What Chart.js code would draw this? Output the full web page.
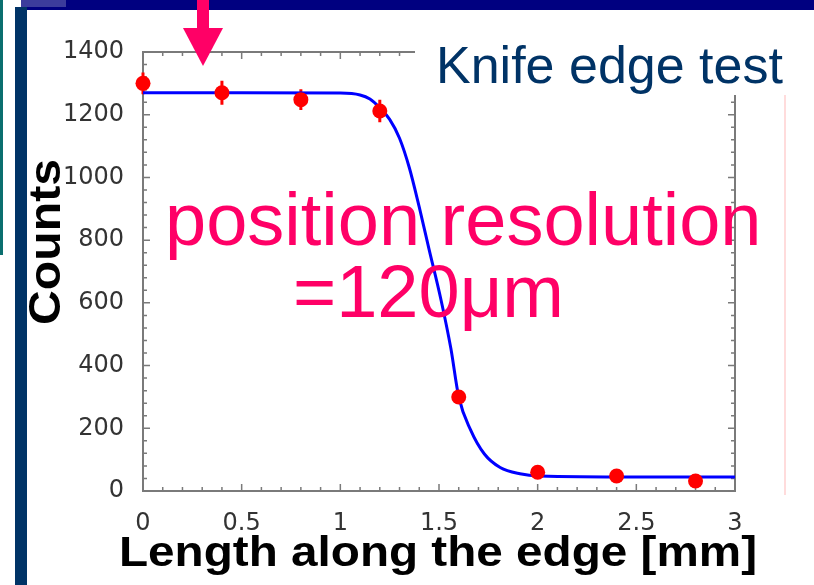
<!DOCTYPE html>
<html>
<head>
<meta charset="utf-8">
<script src="https://cdn.jsdelivr.net/npm/chart.js@4.4.1/dist/chart.umd.min.js"></script>
<style>
  html, body { margin: 0; padding: 0; background: #fff; overflow: hidden; }
  canvas { display: block; }
</style>
</head>
<body>
<canvas id="c" width="814" height="585"></canvas>
<script>
// Measured counts along the knife edge (mm) with their uncertainties
const positions = [0, 0.4, 0.8, 1.2, 1.6, 2.0, 2.4, 2.8];
const counts = [1300, 1270, 1248, 1212, 300, 60, 48, 32];
const countErrors = [35, 38, 33, 36, 18, 10, 8, 8];

// Fitted edge-response curve
const fitX = [0, 0.5, 1.0, 1.1, 1.15, 1.2, 1.25, 1.3, 1.35, 1.4, 1.45, 1.51, 1.56, 1.6, 1.66, 1.73, 1.81, 1.91, 2.01, 2.5, 3.0];
const fitY = [1270, 1270, 1269, 1263, 1250, 1222, 1185, 1125, 1030, 905, 770, 610, 455, 300, 195, 118, 75, 55, 48, 45, 45];

// Axis ticks and their labels
const xTickValues = [0, 0.5, 1, 1.5, 2, 2.5, 3];
const xTickLabels = ['0', '0.5', '1', '1.5', '2', '2.5', '3'];
const yTickValues = [0, 200, 400, 600, 800, 1000, 1200, 1400];
const yTickLabels = ['0', '200', '400', '600', '800', '1000', '1200', '1400'];

const xMinorStep = 0.1;
const yMinorStep = 40;

const PINK = '#ff0066';
const AXIS = '#7a7a7a';

function drawStretchedText(ctx, text, x, y, font, color, targetWidth, align) {
  ctx.save();
  ctx.font = font;
  ctx.fillStyle = color;
  ctx.textBaseline = 'alphabetic';
  const w = ctx.measureText(text).width;
  const sx = targetWidth / w;
  ctx.translate(x, y);
  ctx.scale(sx, 1);
  ctx.textAlign = align || 'center';
  ctx.fillText(text, 0, 0);
  ctx.restore();
}

const slidePlugin = {
  id: 'slide',
  beforeDraw(chart) {
    const ctx = chart.ctx;
    ctx.save();
    ctx.fillStyle = '#ffffff';
    ctx.fillRect(0, 0, chart.width, chart.height);
    // slide header bar and side rule
    ctx.fillStyle = '#000080';
    ctx.fillRect(21, 0, 793, 10);
    ctx.fillStyle = '#3c3c9c';
    ctx.fillRect(21, 0, 45, 7);
    ctx.fillStyle = '#003366';
    ctx.fillRect(15, 7, 12, 578);
    ctx.fillStyle = '#0b6f6f';
    ctx.fillRect(0, 0, 3, 255);
    // faint rule on the right
    ctx.fillStyle = '#ffdcdc';
    ctx.fillRect(784, 15, 2, 480);
    ctx.restore();
  },
  beforeDatasetsDraw(chart) {
    const ctx = chart.ctx;
    const xs = chart.scales.x, ys = chart.scales.y;
    const { left, right, top, bottom } = chart.chartArea;
    ctx.save();
    ctx.strokeStyle = AXIS;
    ctx.lineWidth = 2;
    ctx.strokeRect(left, top, right - left, bottom - top);
    ctx.lineWidth = 1.5;
    ctx.beginPath();
    // x ticks (bottom and top, pointing inward)
    for (let v = xs.min; v <= xs.max + 1e-9; v += xMinorStep) {
      const major = Math.abs(v / 0.5 - Math.round(v / 0.5)) < 1e-6;
      const len = major ? 7 : 4;
      const px = xs.getPixelForValue(v);
      ctx.moveTo(px, bottom); ctx.lineTo(px, bottom - len);
      ctx.moveTo(px, top); ctx.lineTo(px, top + len);
    }
    // y ticks (left and right, pointing inward)
    for (let v = ys.min; v <= ys.max + 1e-9; v += yMinorStep) {
      const major = v % 200 === 0;
      const len = major ? 7 : 4;
      const py = ys.getPixelForValue(v);
      ctx.moveTo(left, py); ctx.lineTo(left + len, py);
      ctx.moveTo(right, py); ctx.lineTo(right - len, py);
    }
    ctx.stroke();

    // error bars for the measured points
    const ds = chart.data.datasets[0];
    ctx.strokeStyle = '#ff0000';
    ctx.lineWidth = 3;
    ctx.beginPath();
    ds.data.forEach((p, i) => {
      const e = ds.errors[i];
      const px = xs.getPixelForValue(p.x);
      ctx.moveTo(px, ys.getPixelForValue(p.y - e));
      ctx.lineTo(px, ys.getPixelForValue(p.y + e));
    });
    ctx.stroke();
    ctx.restore();
  },
  afterDraw(chart) {
    const ctx = chart.ctx;
    const { left, right } = chart.chartArea;
    ctx.save();

    // axis titles
    drawStretchedText(ctx, 'Length along the edge [mm]', (left + right) / 2 - 1, 566,
      'bold 43px "Liberation Sans", Arial, sans-serif', '#000000', 638, 'center');
    ctx.save();
    ctx.translate(60, 242);
    ctx.rotate(-Math.PI / 2);
    drawStretchedText(ctx, 'Counts', 0, 0,
      'bold 44px "Liberation Sans", Arial, sans-serif', '#000000', 166, 'center');
    ctx.restore();

    // title box
    ctx.fillStyle = '#ffffff';
    ctx.fillRect(415, 12, 385, 83);
    ctx.fillStyle = '#003366';
    ctx.font = '52px "Liberation Sans", Arial, sans-serif';
    ctx.textAlign = 'left';
    ctx.textBaseline = 'alphabetic';
    ctx.fillText('Knife edge test', 436, 83);

    // resolution annotation
    ctx.fillStyle = PINK;
    ctx.font = '74px "Liberation Sans", Arial, sans-serif';
    ctx.fillText('position resolution', 165, 245);
    ctx.fillText('=120\u03bcm', 293, 317);

    // arrow marking the edge
    ctx.fillStyle = PINK;
    ctx.fillRect(197, 0, 12, 30);
    ctx.beginPath();
    ctx.moveTo(183, 28);
    ctx.lineTo(223, 28);
    ctx.lineTo(203, 66);
    ctx.closePath();
    ctx.fill();
    ctx.restore();
  }
};

const tickFont = { family: '"DejaVu Sans", sans-serif', size: 24 };

new Chart(document.getElementById('c'), {
  type: 'scatter',
  data: {
    datasets: [
      {
        label: 'Counts',
        data: positions.map((x, i) => ({ x, y: counts[i] })),
        errors: countErrors,
        pointRadius: 7.5,
        pointBackgroundColor: '#ff0000',
        pointBorderWidth: 0,
        clip: false,
        order: 0
      },
      {
        label: 'Fit',
        data: fitX.map((x, i) => ({ x, y: fitY[i] })),
        showLine: true,
        pointRadius: 0,
        borderColor: '#0000ff',
        borderWidth: 3,
        cubicInterpolationMode: 'monotone',
        order: 1
      }
    ]
  },
  options: {
    responsive: false,
    animation: false,
    devicePixelRatio: 1,
    layout: { padding: { top: 52, right: 79, left: 0, bottom: 0 } },
    plugins: { legend: { display: false }, tooltip: { enabled: false } },
    scales: {
      x: {
        type: 'linear', min: 0, max: 3,
        afterFit(s) { s.height = 94; },
        afterBuildTicks(s) { s.ticks = xTickValues.map(v => ({ value: v })); },
        grid: { display: false, drawTicks: false, tickLength: 0 },
        border: { display: false },
        ticks: {
          font: tickFont, color: '#333333', padding: 18, maxRotation: 0, autoSkip: false,
          callback: (v, i) => xTickLabels[i]
        }
      },
      y: {
        type: 'linear', min: 0, max: 1400,
        afterFit(s) { s.width = 143; },
        afterBuildTicks(s) { s.ticks = yTickValues.map(v => ({ value: v })); },
        grid: { display: false, drawTicks: false, tickLength: 0 },
        border: { display: false },
        ticks: {
          font: tickFont, color: '#333333', padding: 19, autoSkip: false,
          callback: (v, i) => yTickLabels[i]
        }
      }
    }
  },
  plugins: [slidePlugin]
});
</script>
</body>
</html>
